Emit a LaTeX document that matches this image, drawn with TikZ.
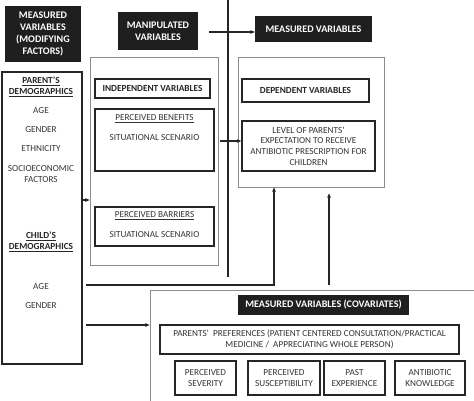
\documentclass[tikz,border=0pt]{standalone}
\usepackage{fontspec}
\setmainfont{Carlito}
\usetikzlibrary{arrows.meta}
\begin{document}
\begin{tikzpicture}[x=1pt,y=-1pt,
  every node/.style={font=\fontsize{9.2}{10.7}\selectfont, inner sep=0pt, align=center, text=black!80},
  darkbox/.style={fill=black!88, draw=none, text=white, font=\bfseries\fontsize{10.1}{12}\selectfont},
  outerbox/.style={draw=black!45, line width=0.8pt},
  innerbox/.style={draw=black!85, line width=1.4pt},
  headtxt/.style={font=\bfseries\fontsize{9.3}{10.9}\selectfont, text=black!85},
  conn/.style={draw=black!85, line width=1.1pt},
  arr/.style={conn, -{Stealth[length=4.5pt,width=3.8pt]}}
]
\useasboundingbox (0,0) rectangle (474,400);
\clip (0,0) rectangle (474,400);

% top labels
\node[darkbox, minimum width=76, minimum height=56] (modfac) at (43,34) {MEASURED\\VARIABLES\\(MODIFYING\\FACTORS)};
\node[darkbox, minimum width=80, minimum height=38] (manip) at (158,31) {MANIPULATED\\VARIABLES};
\node[darkbox, minimum width=117, minimum height=26] (measvar) at (313.5,29) {MEASURED VARIABLES};

% demographics column
\node[draw=black!85, line width=1.2pt, minimum width=80, minimum height=292] (demo) at (42,218) {};
\node[headtxt] (pdhead) at (41,87) {\underline{PARENT’S}\\\underline{DEMOGRAPHICS}};
\node (pdage) at (41,111) {AGE};
\node (pdgender) at (41,130) {GENDER};
\node (pdeth) at (41,149) {ETHNICITY};
\node (pdses) at (41,174) {SOCIOECONOMIC\\FACTORS};
\node[headtxt] (cdhead) at (41,242) {\underline{CHILD’S}\\\underline{DEMOGRAPHICS}};
\node (cdage) at (41,287) {AGE};
\node (cdgender) at (41,306) {GENDER};

% independent variables
\node[outerbox, minimum width=128, minimum height=208] (indep) at (154,161) {};
\node[innerbox, headtxt, minimum width=115, minimum height=19] (indepvar) at (152.5,88.5) {INDEPENDENT VARIABLES};
\node[innerbox, minimum width=119, minimum height=62] (benefits) at (154.5,140) {};
\node (bentitle) at (154.5,119) {\underline{PERCEIVED BENEFITS}};
\node (benscen) at (154.5,138) {SITUATIONAL SCENARIO};
\node[innerbox, minimum width=119, minimum height=39] (barriers) at (154.5,226.5) {};
\node (bartitle) at (154.5,216) {\underline{PERCEIVED BARRIERS}};
\node (barscen) at (154.5,235) {SITUATIONAL SCENARIO};

% dependent variables
\node[outerbox, minimum width=146, minimum height=130] (dep) at (311,122) {};
\node[innerbox, headtxt, minimum width=127, minimum height=23] (depvar) at (305.5,90.5) {DEPENDENT VARIABLES};
\node[innerbox, minimum width=133, minimum height=50] (level) at (308.5,146) {LEVEL OF PARENTS’\\EXPECTATION TO RECEIVE\\ANTIBIOTIC PRESCRIPTION FOR\\CHILDREN};

% covariates
\node[outerbox, minimum width=330, minimum height=120] (cov) at (315,350) {};
\node[darkbox, minimum width=171, minimum height=20] (covlabel) at (323.5,305) {MEASURED VARIABLES (COVARIATES)};
\node[innerbox, minimum width=299, minimum height=29] (prefs) at (309.5,339.5) {PARENTS’\ \ PREFERENCES (PATIENT CENTERED CONSULTATION/PRACTICAL\\MEDICINE /\ \ APPRECIATING WHOLE PERSON)};
\node[innerbox, minimum width=61, minimum height=34] (severity) at (205.5,378) {PERCEIVED\\SEVERITY};
\node[innerbox, minimum width=72, minimum height=34] (suscept) at (284,378) {PERCEIVED\\SUSCEPTIBILITY};
\node[innerbox, minimum width=61, minimum height=34] (past) at (354.5,378) {PAST\\EXPERIENCE};
\node[innerbox, minimum width=70, minimum height=34] (knowledge) at (430,378) {ANTIBIOTIC\\KNOWLEDGE};

% divider
\coordinate (divtop) at (228,0);
\coordinate (divbot) at (228,277);
\draw[conn] (divtop) -- (divbot);

% connectors
\draw[arr] ([xshift=11pt,yshift=-1pt]manip.east) -- ([yshift=-3pt]measvar.west);
\draw[arr] ([xshift=-2pt,yshift=18pt]demo.east) -- ([yshift=-39pt]indep.west);
\draw[arr] ([xshift=2pt,yshift=20pt]indep.east) -- ([yshift=5pt]level.west);
\draw[arr] ([xshift=3pt,yshift=-67pt]demo.east) -| ([xshift=-37pt]dep.south);
\draw[arr] ([xshift=3pt,yshift=-107pt]demo.east) -- ([yshift=25pt]cov.west);
\draw[arr] ([xshift=14pt,yshift=5pt]cov.north) -- ([xshift=18pt,yshift=-6pt]dep.south);
\end{tikzpicture}
\end{document}
